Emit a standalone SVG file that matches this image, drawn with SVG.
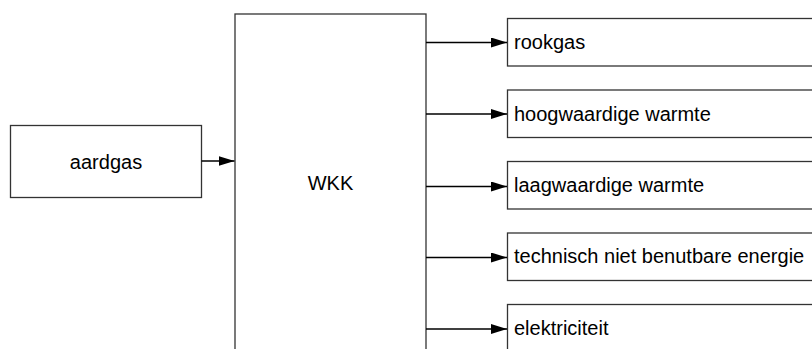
<svg xmlns="http://www.w3.org/2000/svg" width="812" height="349" viewBox="0 0 812 349">
<defs>
<style>
.box{fill:#fff;stroke:#333;stroke-width:1.3}
.lbl{font-family:"Liberation Sans",Arial,sans-serif;font-size:20px;fill:#000}
.con{stroke:#000;stroke-width:1.3;fill:none;marker-end:url(#ah)}
</style>
<marker id="ah" viewBox="0 0 16 10" refX="16" refY="5" markerWidth="16" markerHeight="10" markerUnits="userSpaceOnUse" orient="auto">
<path d="M0,0 L16,5 L0,10 Z" fill="#000"/>
</marker>
</defs>
<rect width="812" height="349" fill="#fff"/>
<g id="aardgas"><rect class="box" x="10.5" y="125.5" width="191" height="72"/><text class="lbl" x="106" y="169" text-anchor="middle">aardgas</text></g>
<g id="wkk"><rect class="box" x="235" y="14" width="191" height="360"/><text class="lbl" x="330.5" y="189.5" text-anchor="middle">WKK</text></g>
<g id="rookgas"><rect class="box" x="507.5" y="18.5" width="320" height="47.5"/><text class="lbl" x="514" y="49">rookgas</text></g>
<g id="hoogwaardig"><rect class="box" x="507.5" y="90" width="320" height="47.5"/><text class="lbl" x="514" y="120.5">hoogwaardige warmte</text></g>
<g id="laagwaardig"><rect class="box" x="507.5" y="161.5" width="320" height="47.5"/><text class="lbl" x="514" y="192">laagwaardige warmte</text></g>
<g id="technisch"><rect class="box" x="507.5" y="233" width="320" height="47.5"/><text class="lbl" x="514" y="263">technisch niet benutbare energie</text></g>
<g id="elektriciteit"><rect class="box" x="507.5" y="304.5" width="320" height="47.5"/><text class="lbl" x="514" y="334.5">elektriciteit</text></g>
<g id="connectors">
<line class="con" x1="201.5" y1="161" x2="234.5" y2="161"/>
<line class="con" x1="426" y1="42.5" x2="507" y2="42.5"/>
<line class="con" x1="426" y1="114" x2="507" y2="114"/>
<line class="con" x1="426" y1="186.5" x2="507" y2="186.5"/>
<line class="con" x1="426" y1="257.5" x2="507" y2="257.5"/>
<line class="con" x1="426" y1="329" x2="507" y2="329"/>
</g>
</svg>
